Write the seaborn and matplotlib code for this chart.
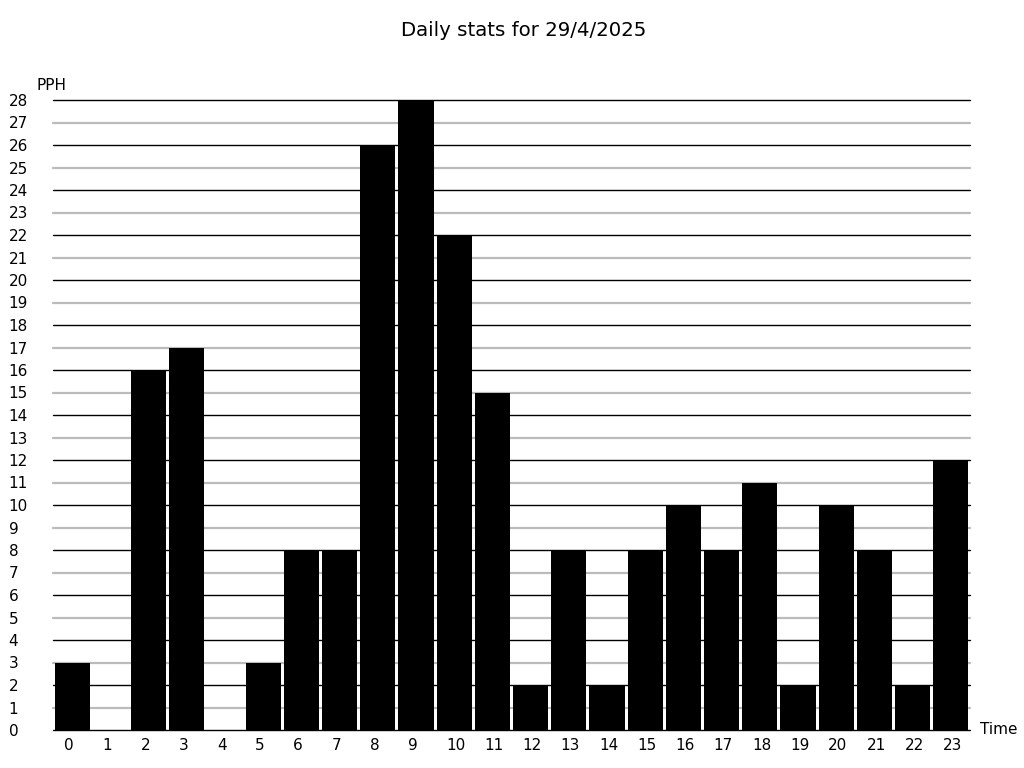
import matplotlib
matplotlib.use("Agg")
import matplotlib.pyplot as plt
import matplotlib.transforms as mtransforms
import seaborn as sns
import pandas as pd

hours = list(range(24))
pph = [3, 0, 16, 17, 0, 3, 8, 8, 26, 28, 22, 15, 2, 8, 2, 8, 10, 8, 11, 2, 10, 8, 2, 12]
y_max = 28

df = pd.DataFrame({"hour": hours, "pph": pph})

sns.set_style("white")
plt.rcParams["font.family"] = ["DejaVu Sans"]
plt.rcParams["text.color"] = "black"
plt.rcParams["xtick.color"] = "black"
plt.rcParams["ytick.color"] = "black"

fig = plt.figure(figsize=(10.24, 7.68), dpi=100)
ax = fig.add_axes([53 / 1024, 1 - 730 / 768, 917 / 1024, 630 / 768])

# grid lines: black on even values, grey on odd
for v in range(y_max + 1):
    ax.axhline(v, color="black" if v % 2 == 0 else "#bbbbbb",
               linewidth=1.0 if v % 2 == 0 else 1.6, zorder=0.5, clip_on=False)

sns.barplot(data=df, x="hour", y="pph", color="black", saturation=1,
            width=0.92, linewidth=0, ax=ax, zorder=2)

ax.set_xlim(-0.5, 23.5)
ax.set_ylim(0, y_max)
ax.set_yticks(range(y_max + 1))
ax.set_xlabel("")
ax.set_ylabel("")
for s in ax.spines.values():
    s.set_visible(False)
ax.tick_params(axis="both", length=0, labelsize=11)
ax.tick_params(axis="y", pad=32)
ax.tick_params(axis="x", pad=6)
for lab in ax.get_yticklabels():
    lab.set_horizontalalignment("left")
# x labels sit left-aligned a little inside each bar
shift = mtransforms.ScaledTranslation(-0.08, 0, fig.dpi_scale_trans)
for lab in ax.get_xticklabels():
    lab.set_horizontalalignment("left")
    lab.set_transform(lab.get_transform() + shift)

fig.text(523.5 / 1024, 1 - 31 / 768, "Daily stats for 29/4/2025", ha="center", va="center", fontsize=14.2)
fig.text(37 / 1024, 1 - 85 / 768, "PPH", ha="left", va="center", fontsize=11)
fig.text(980 / 1024, 1 - 730 / 768, "Time", ha="left", va="center", fontsize=11)

fig.savefig("out.png", dpi=100)
